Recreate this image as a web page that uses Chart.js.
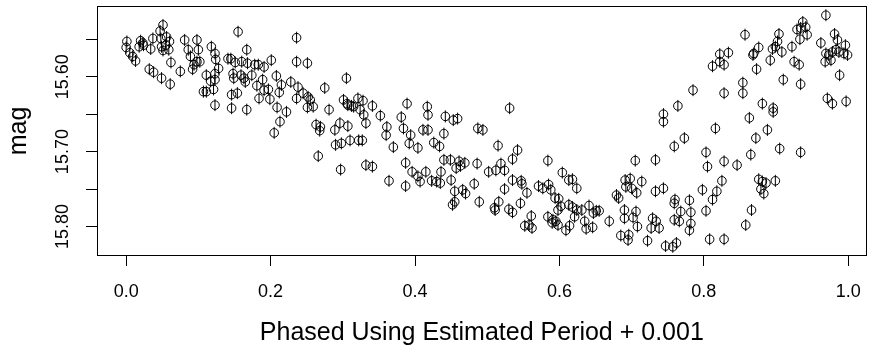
<!DOCTYPE html>
<html>
<head>
<meta charset="utf-8">
<script src="https://cdn.jsdelivr.net/npm/chart.js@4.4.1/dist/chart.umd.min.js"></script>
<style>
  html, body { margin: 0; padding: 0; background: #fff; }
</style>
</head>
<body>
<canvas id="phaseChart" width="876" height="350"></canvas>
<script>
// phase / mag pairs, grouped roughly by region
const phase = [
    // left part
    0.001, 0.000, 0.005, 0.009, 0.013, 0.020, 0.023, 0.018, 0.024, 0.034,
    0.037, 0.047, 0.051, 0.048, 0.056, 0.060, 0.055, 0.049, 0.051, 0.059,
    0.062, 0.032, 0.038, 0.049, 0.061, 0.075, 0.081, 0.098, 0.086, 0.100,
    0.089, 0.098, 0.102, 0.094, 0.092, 0.118, 0.123, 0.124, 0.128, 0.123,
    0.111, 0.117, 0.123, 0.107, 0.111, 0.121, 0.123, 0.141, 0.145, 0.155,
    0.167, 0.151, 0.160, 0.168, 0.178, 0.183, 0.191, 0.148, 0.149, 0.159,
    0.163, 0.165, 0.174, 0.181, 0.189, 0.191, 0.146, 0.154, 0.146, 0.167,
    0.201, 0.208, 0.215, 0.212, 0.197, 0.184, 0.199, 0.209, 0.222, 0.228,
    0.238, 0.236, 0.245, 0.252, 0.255, 0.251, 0.259, 0.236, 0.236, 0.251,
    0.275, 0.281, 0.305, 0.301, 0.307, 0.315, 0.321, 0.213, 0.263, 0.269,
    0.296, 0.307, 0.289,
    // 0.2 - 0.55
    0.205, 0.268, 0.290, 0.298, 0.310, 0.322, 0.266, 0.297,
    0.306, 0.312, 0.328, 0.324, 0.329, 0.332, 0.341, 0.352, 0.361, 0.389,
    0.381, 0.384, 0.417, 0.418, 0.442, 0.453, 0.459, 0.411, 0.418, 0.487,
    0.494, 0.531,
    // descending branch / minimum
    0.327, 0.360, 0.332, 0.341, 0.370, 0.364, 0.394, 0.392, 0.404, 0.426,
    0.434, 0.440, 0.387, 0.396, 0.404, 0.407, 0.415, 0.423, 0.430, 0.435,
    0.387, 0.436, 0.440, 0.449, 0.461, 0.469, 0.457, 0.463, 0.450, 0.455,
    0.466, 0.470, 0.455, 0.452, 0.482, 0.486, 0.489, 0.515, 0.502, 0.512,
    0.524, 0.519, 0.542, 0.535, 0.535, 0.547, 0.548, 0.524, 0.516, 0.510,
    0.511, 0.530, 0.535, 0.546, 0.555, 0.561, 0.552, 0.558, 0.562, 0.584,
    0.571, 0.577, 0.585, 0.588, 0.594, 0.599, 0.584, 0.598, 0.591, 0.595,
    0.598, 0.590, 0.604, 0.613, 0.618, 0.624, 0.602, 0.613, 0.618, 0.624,
    0.631, 0.641, 0.647, 0.651, 0.621, 0.614, 0.609, 0.635, 0.637, 0.646,
    // rising branch, bright end
    0.969, 0.937, 0.929, 0.934, 0.941, 0.943, 0.933, 0.904, 0.902, 0.899,
    0.908, 0.895, 0.922, 0.925, 0.932, 0.892, 0.910, 0.934, 0.857, 0.876,
    0.869, 0.868, 0.873, 0.822, 0.834, 0.822, 0.828, 0.812, 0.854, 0.854,
    0.828, 0.785, 0.764, 0.744, 0.744, 0.881, 0.896, 0.896, 0.863, 0.816,
    0.888, 0.962, 0.981, 0.985, 0.996, 0.969, 0.973, 0.978, 0.983, 0.987,
    0.994, 0.999, 0.976, 0.968, 0.988, 0.971, 0.978, 0.997,
    // rising branch, faint end
    0.773, 0.759, 0.872, 0.905, 0.934, 0.803, 0.805, 0.828, 0.846, 0.865,
    0.705, 0.733, 0.825, 0.876, 0.881, 0.886, 0.899, 0.879, 0.883, 0.691,
    0.698, 0.714, 0.692, 0.700, 0.707, 0.679, 0.682, 0.733, 0.744, 0.798,
    0.818, 0.812, 0.760, 0.759, 0.780, 0.768, 0.782, 0.803, 0.866, 0.858,
    0.690, 0.706, 0.690, 0.702, 0.669, 0.729, 0.734, 0.727, 0.738, 0.708,
    0.759, 0.766, 0.782, 0.780, 0.685, 0.696, 0.695, 0.722, 0.747, 0.757,
    0.762, 0.808, 0.828, 0.655
];

const mag = [
    15.553, 15.561, 15.568, 15.573, 15.579, 15.552, 15.555, 15.560, 15.558, 15.563,
    15.549, 15.539, 15.531, 15.549, 15.547, 15.553, 15.558, 15.560, 15.565, 15.564,
    15.581, 15.590, 15.594, 15.602, 15.610, 15.593, 15.551, 15.551, 15.564, 15.564,
    15.573, 15.580, 15.580, 15.584, 15.590, 15.560, 15.569, 15.577, 15.589, 15.596,
    15.598, 15.606, 15.604, 15.620, 15.620, 15.617, 15.638, 15.576, 15.576, 15.540,
    15.564, 15.581, 15.580, 15.582, 15.584, 15.584, 15.587, 15.596, 15.602, 15.598,
    15.602, 15.607, 15.598, 15.612, 15.604, 15.618, 15.624, 15.622, 15.642, 15.644,
    15.578, 15.599, 15.611, 15.621, 15.617, 15.629, 15.630, 15.641, 15.647, 15.607,
    15.614, 15.629, 15.622, 15.627, 15.631, 15.641, 15.640, 15.548, 15.580, 15.582,
    15.615, 15.644, 15.602, 15.631, 15.638, 15.640, 15.629, 15.660, 15.664, 15.667,
    15.662, 15.666, 15.671,

    15.675, 15.672, 15.691, 15.689, 15.685, 15.685, 15.706, 15.724,
    15.636, 15.639, 15.632, 15.644, 15.651, 15.662, 15.639, 15.652, 15.667, 15.636,
    15.654, 15.669, 15.640, 15.651, 15.653, 15.658, 15.656, 15.671, 15.671, 15.669,
    15.671, 15.642,

    15.685, 15.678, 15.718, 15.720, 15.694, 15.739, 15.678, 15.689, 15.695, 15.688,
    15.693, 15.676, 15.715, 15.727, 15.733, 15.740, 15.727, 15.739, 15.740, 15.742,
    15.746, 15.727, 15.711, 15.711, 15.713, 15.715, 15.722, 15.719, 15.738, 15.753,
    15.751, 15.756, 15.767, 15.771, 15.743, 15.716, 15.767, 15.692, 15.727, 15.725,
    15.725, 15.716, 15.698, 15.710, 15.738, 15.739, 15.743, 15.750, 15.767, 15.775,
    15.778, 15.777, 15.781, 15.769, 15.755, 15.786, 15.799, 15.798, 15.802, 15.712,
    15.746, 15.749, 15.744, 15.751, 15.762, 15.763, 15.787, 15.778, 15.791, 15.793,
    15.798, 15.795, 15.728, 15.738, 15.737, 15.749, 15.773, 15.771, 15.774, 15.778,
    15.778, 15.772, 15.782, 15.779, 15.787, 15.799, 15.805, 15.793, 15.803, 15.801,

    15.518, 15.527, 15.537, 15.535, 15.534, 15.544, 15.550, 15.543, 15.553, 15.560,
    15.567, 15.563, 15.560, 15.580, 15.584, 15.578, 15.604, 15.610, 15.544, 15.561,
    15.569, 15.571, 15.590, 15.570, 15.568, 15.580, 15.584, 15.586, 15.608, 15.622,
    15.622, 15.618, 15.639, 15.650, 15.660, 15.636, 15.642, 15.647, 15.655, 15.669,
    15.671, 15.555, 15.543, 15.551, 15.558, 15.569, 15.571, 15.567, 15.564, 15.567,
    15.569, 15.571, 15.578, 15.580, 15.598, 15.629, 15.636, 15.633,

    15.682, 15.693, 15.682, 15.696, 15.701, 15.701, 15.720, 15.713, 15.718, 15.704,
    15.712, 15.711, 15.739, 15.737, 15.740, 15.742, 15.739, 15.750, 15.756, 15.738,
    15.736, 15.740, 15.747, 15.749, 15.755, 15.758, 15.762, 15.753, 15.749, 15.751,
    15.753, 15.764, 15.764, 15.769, 15.765, 15.780, 15.781, 15.779, 15.778, 15.798,
    15.778, 15.780, 15.789, 15.788, 15.793, 15.789, 15.793, 15.802, 15.802, 15.800,
    15.791, 15.793, 15.796, 15.805, 15.812, 15.811, 15.818, 15.819, 15.826, 15.827,
    15.822, 15.817, 15.817, 15.779
];

const xTicks = [0.0, 0.2, 0.4, 0.6, 0.8, 1.0];
const yTicks = [15.55, 15.60, 15.65, 15.70, 15.75, 15.80];
const yTickLabels = ["", "15.60", "", "15.70", "", "15.80"];

const FONT = '"Liberation Sans", Arial, Helvetica, sans-serif';

const points = phase.map((p, i) => ({ x: p, y: mag[i] }));

// box around the plot region + the rotated y labels (R style)
const rFrame = {
    id: "rFrame",
    afterDraw(chart) {
        const { ctx, chartArea: a, scales } = chart;
        ctx.save();
        ctx.strokeStyle = "#000";
        ctx.lineWidth = 1;
        ctx.strokeRect(Math.round(a.left) - 0.5, Math.round(a.top) - 0.5,
            Math.round(a.right - a.left) + 1, Math.round(a.bottom - a.top) + 1);

        ctx.fillStyle = "#000";
        ctx.font = "18px " + FONT;
        ctx.textAlign = "center";
        ctx.textBaseline = "middle";
        yTicks.forEach((v, i) => {
            if (!yTickLabels[i]) return;
            const py = scales.y.getPixelForValue(v);
            ctx.save();
            ctx.translate(63, py);
            ctx.rotate(-Math.PI / 2);
            ctx.fillText(yTickLabels[i], 0, 0);
            ctx.restore();
        });
        ctx.restore();
    },
};

new Chart(document.getElementById("phaseChart"), {
    type: "scatter",
    data: {
        datasets: [
            {
                data: points,
                pointStyle: "circle",
                pointRadius: 4.3,
                borderColor: "#000",
                borderWidth: 1,
                backgroundColor: "rgba(0,0,0,0)",
            },
            {
                // error bars
                data: points,
                pointStyle: "line",
                rotation: 90,
                pointRadius: 6,
                borderColor: "#000",
                borderWidth: 1,
            },
        ],
    },
    options: {
        responsive: false,
        animation: false,
        devicePixelRatio: 1,
        layout: { padding: { top: 7, right: 9, left: 0, bottom: 0 } },
        plugins: { legend: { display: false }, tooltip: { enabled: false } },
        scales: {
            x: {
                type: "linear",
                min: -0.039,
                max: 1.024,
                afterBuildTicks: (s) => { s.ticks = xTicks.map((v) => ({ value: v })); },
                afterFit: (s) => { s.height = 95; },
                grid: { drawOnChartArea: false, drawTicks: true, tickLength: 11, color: "#000" },
                border: { display: false },
                ticks: {
                    color: "#000",
                    font: { family: FONT, size: 18 },
                    padding: 15,
                    maxRotation: 0,
                    callback: (v) => Number(v).toFixed(1),
                },
                title: {
                    display: true,
                    text: "Phased Using Estimated Period + 0.001",
                    color: "#000",
                    font: { family: FONT, size: 25 },
                    padding: { top: 0, bottom: 2 },
                },
            },
            y: {
                type: "linear",
                reverse: true,
                min: 15.507,
                max: 15.838,
                afterBuildTicks: (s) => { s.ticks = yTicks.map((v) => ({ value: v })); },
                afterFit: (s) => { s.width = 98; },
                grid: { drawOnChartArea: false, drawTicks: true, tickLength: 12, color: "#000" },
                border: { display: false },
                ticks: { display: false },
                title: {
                    display: true,
                    text: "mag",
                    color: "#000",
                    font: { family: FONT, size: 25 },
                    padding: { top: 4, bottom: 0 },
                },
            },
        },
    },
    plugins: [rFrame],
});
</script>
</body>
</html>
